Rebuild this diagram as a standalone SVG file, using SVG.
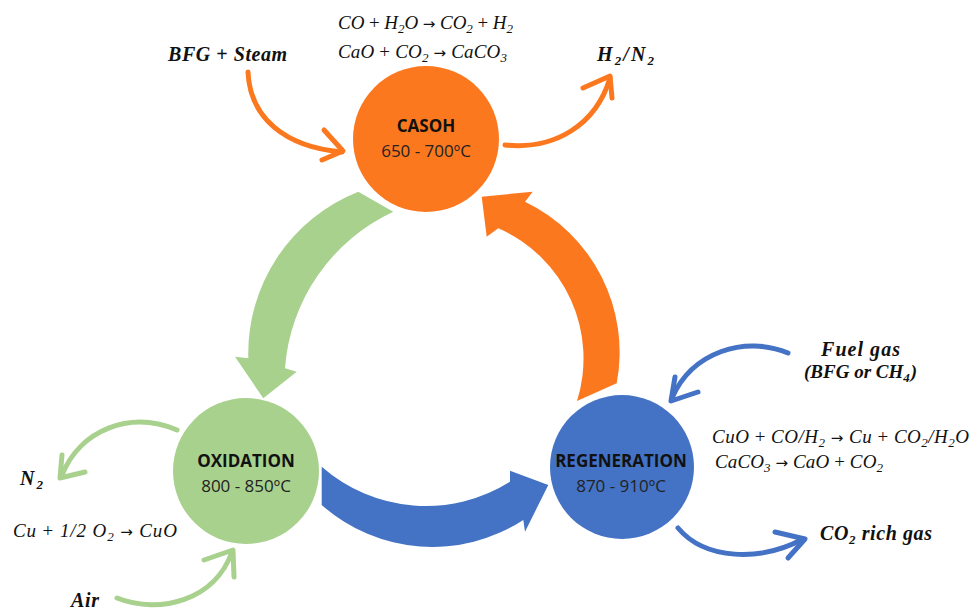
<svg xmlns="http://www.w3.org/2000/svg" width="972" height="611" viewBox="0 0 972 611">
<style>
.eq{font-family:"Liberation Serif","DejaVu Serif",serif;font-style:italic;font-size:19px;fill:#111}
.lb{font-family:"Liberation Serif","DejaVu Serif",serif;font-style:italic;font-weight:bold;font-size:20px;fill:#111}
.s{font-size:13px}
.op{font-style:normal}
.ar{font-family:"DejaVu Sans",sans-serif;font-style:normal;font-size:15px}
.tt{font-family:"Open Sans","DejaVu Sans",sans-serif;font-weight:bold;font-size:17px;fill:#111;text-anchor:middle}
.tp{font-family:"Open Sans","DejaVu Sans",sans-serif;font-size:17px;fill:#222;text-anchor:middle}
.thin{fill:none;stroke-width:5;stroke-linecap:round;stroke-linejoin:round}
.o{fill:#FC781E}
.g{fill:#A9D18E}
.b{fill:#4472C4}
</style>
<g id="connectors">
  <path id="arrow-casoh-oxidation" class="g" d="M358.3,191.7 A174,174 0 0 0 248.3,358.3 L235,356.7 L263.3,398.3 L296.7,371.7 L285,368.3 A188,188 0 0 1 393.3,211.7 Z"/>
  <path id="arrow-regeneration-casoh" class="o" d="M577,401 L616.7,383.3 A167,167 0 0 0 525,201.7 L532.7,191.7 L481.7,196.7 L486.7,236.7 L498.3,228.3 A142,142 0 0 1 577,401 Z"/>
  <path id="arrow-oxidation-regeneration" class="b" d="M321.7,466.7 A158,158 0 0 0 510,481.7 L510,470.7 L548.3,485 L525,531.7 L523.3,520 A167,167 0 0 1 321.7,505 Z"/>
  <g stroke="#FC781E" class="thin">
    <path d="M248,72 C250,118 285,147 342,152"/>
    <path d="M324,130 L343,151 L322,160"/>
    <path d="M505,145 C555,150 596,125 610,78"/>
    <path d="M583,88 L610,76 L612,98"/>
  </g>
  <g stroke="#4472C4" class="thin">
    <path d="M788,353 C745,335 692,352 672,398"/>
    <path d="M675,377 L671,401 L698,392"/>
    <path d="M678,528 C705,560 760,562 803,539"/>
    <path d="M775,532 L805,539 L788,558"/>
  </g>
  <g stroke="#A9D18E" class="thin">
    <path d="M177,430 C130,410 80,430 62,475"/>
    <path d="M62,455 L60,478 L85,472"/>
    <path d="M117,598 C160,615 215,600 232,552"/>
    <path d="M204,560 L233,550 L234,577"/>
  </g>
</g>
<g id="casoh">
  <circle class="o" cx="426" cy="139" r="73"/>
  <text class="tt" x="426" y="132">CASOH</text>
  <text class="tp" x="426" y="157">650 - 700ºC</text>
</g>
<g id="oxidation">
  <circle class="g" cx="246" cy="471" r="73"/>
  <text class="tt" x="246" y="467">OXIDATION</text>
  <text class="tp" x="246" y="492">800 - 850ºC</text>
</g>
<g id="regeneration">
  <circle class="b" cx="622" cy="467" r="72"/>
  <text class="tt" x="621" y="467">REGENERATION</text>
  <text class="tp" x="621" y="492">870 - 910ºC</text>
</g>
<g id="labels">
  <text class="eq" x="338" y="29" textLength="175">CO <tspan class="op">+</tspan> H<tspan class="s" dy="4">2</tspan><tspan dy="-4">O </tspan><tspan class="ar">→</tspan> CO<tspan class="s" dy="4">2</tspan><tspan dy="-4"> </tspan><tspan class="op">+</tspan> H<tspan class="s" dy="4">2</tspan></text>
  <text class="eq" x="338" y="58" textLength="169">CaO <tspan class="op">+</tspan> CO<tspan class="s" dy="4">2</tspan><tspan dy="-4"> </tspan><tspan class="ar">→</tspan> CaCO<tspan class="s" dy="4">3</tspan></text>
  <text class="lb" x="168" y="61" textLength="119">BFG <tspan class="op">+</tspan> Steam</text>
  <text class="lb" x="597" y="61" textLength="57">H<tspan class="s" dy="4">2</tspan><tspan dy="-4">/N</tspan><tspan class="s" dy="4">2</tspan></text>
  <text class="lb" x="821" y="356" textLength="79">Fuel gas</text>
  <text class="lb" x="804" y="378" style="font-size:19px">(BFG or CH<tspan class="s" dy="4">4</tspan><tspan dy="-4" dx="1">)</tspan></text>
  <text class="eq" x="712" y="443" textLength="257">CuO <tspan class="op">+</tspan> CO/H<tspan class="s" dy="4">2</tspan><tspan dy="-4"> </tspan><tspan class="ar">→</tspan> Cu <tspan class="op">+</tspan> CO<tspan class="s" dy="4">2</tspan><tspan dy="-4">/H</tspan><tspan class="s" dy="4">2</tspan><tspan dy="-4">O</tspan></text>
  <text class="eq" x="715" y="468" textLength="168">CaCO<tspan class="s" dy="4">3</tspan><tspan dy="-4"> </tspan><tspan class="ar">→</tspan> CaO <tspan class="op">+</tspan> CO<tspan class="s" dy="4">2</tspan></text>
  <text class="lb" x="820" y="540" textLength="112">CO<tspan class="s" dy="4">2</tspan><tspan dy="-4"> rich gas</tspan></text>
  <text class="lb" x="20" y="485" textLength="23">N<tspan class="s" dy="4">2</tspan></text>
  <text class="eq" x="13" y="537" textLength="164">Cu <tspan class="op">+</tspan> 1/2 O<tspan class="s" dy="4">2</tspan><tspan dy="-4"> </tspan><tspan class="ar">→</tspan> CuO</text>
  <text class="lb" x="71" y="607" textLength="28">Air</text>
</g>
</svg>
